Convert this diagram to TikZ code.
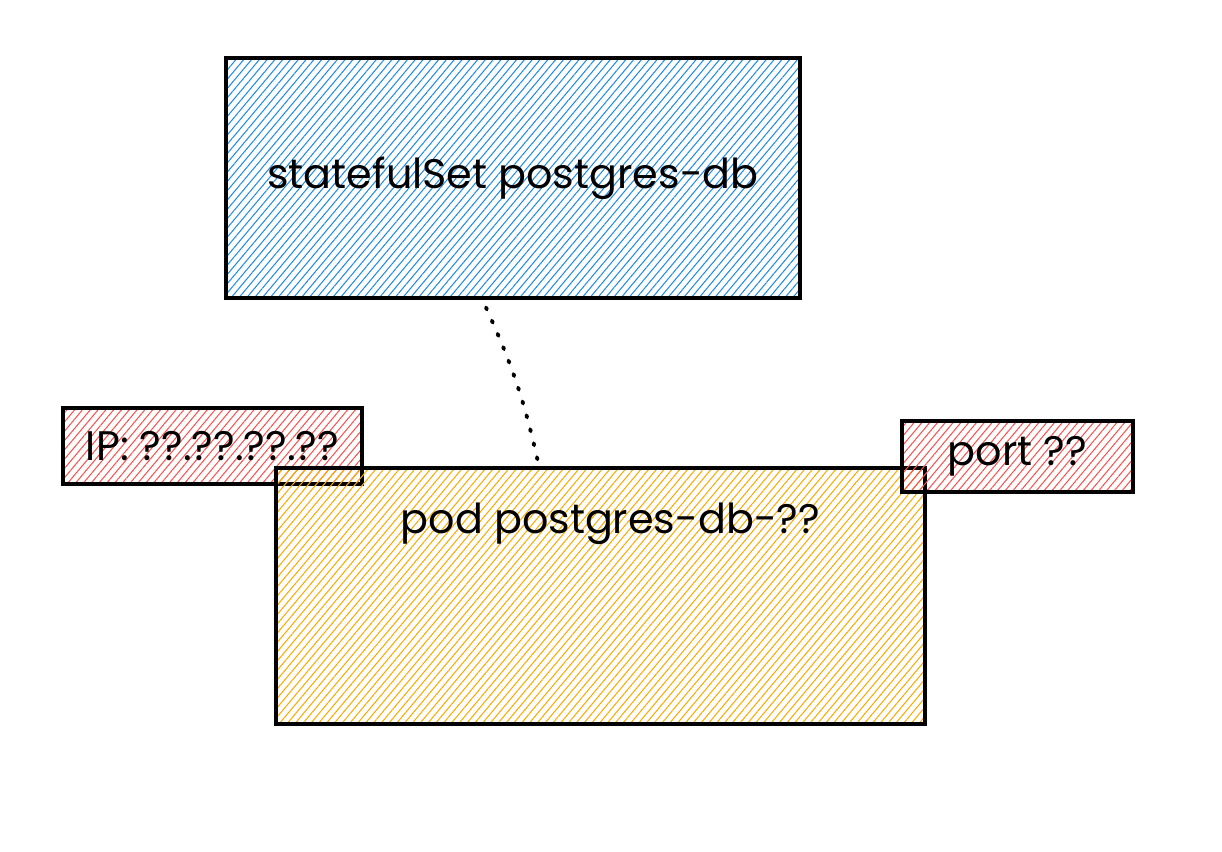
\documentclass[tikz,border=0pt]{standalone}
\usepackage{fontspec}
\setmainfont{Poppins}
\usepackage{xcolor}
\usetikzlibrary{calc,positioning,patterns.meta}
\definecolor{hatchblue}{HTML}{228BE6}
\definecolor{hatchyellow}{HTML}{FAB005}
\definecolor{hatchred}{HTML}{FA5252}

\begin{document}
\begin{tikzpicture}[semithick,font=\fontsize{23.5}{26}\selectfont]
\tikzset{every box/.style={rectangle,draw=black,line width=1.8pt,inner sep=0pt},
  hatched/.style={pattern={Lines[angle=50,distance=3.4pt,line width=0.6pt]},pattern color=#1}}
\useasboundingbox (0,0) rectangle (24.44,17.04);

\node[every box,hatched=hatchblue,minimum width=11.48cm,minimum height=4.8cm] (statefulset) at (10.26,13.48) {\raisebox{-0.15cm}{statefulSet postgres-db}};
\node[every box,hatched=hatchred,minimum width=5.98cm,minimum height=1.52cm] (ip) at (4.25,8.12) {IP: ??.??.??.??};
\node[every box,hatched=hatchyellow!90!orange,minimum width=12.98cm,minimum height=5.12cm,
  label={[anchor=center,yshift=-1.14cm,xshift=0.2cm]north:pod postgres-db-??}] (pod) at (12.01,5.12) {};
\node[every box,hatched=hatchred,minimum width=4.62cm,minimum height=1.42cm] (port) at (20.35,7.91) {port ??};

\draw[line width=2.2pt,line cap=round,dash pattern=on 1.2pt off 7pt] ([xshift=-0.54cm,yshift=-0.18cm]statefulset.south) to[bend left=6] ([xshift=-1.23cm]pod.north);
\end{tikzpicture}
\end{document}
